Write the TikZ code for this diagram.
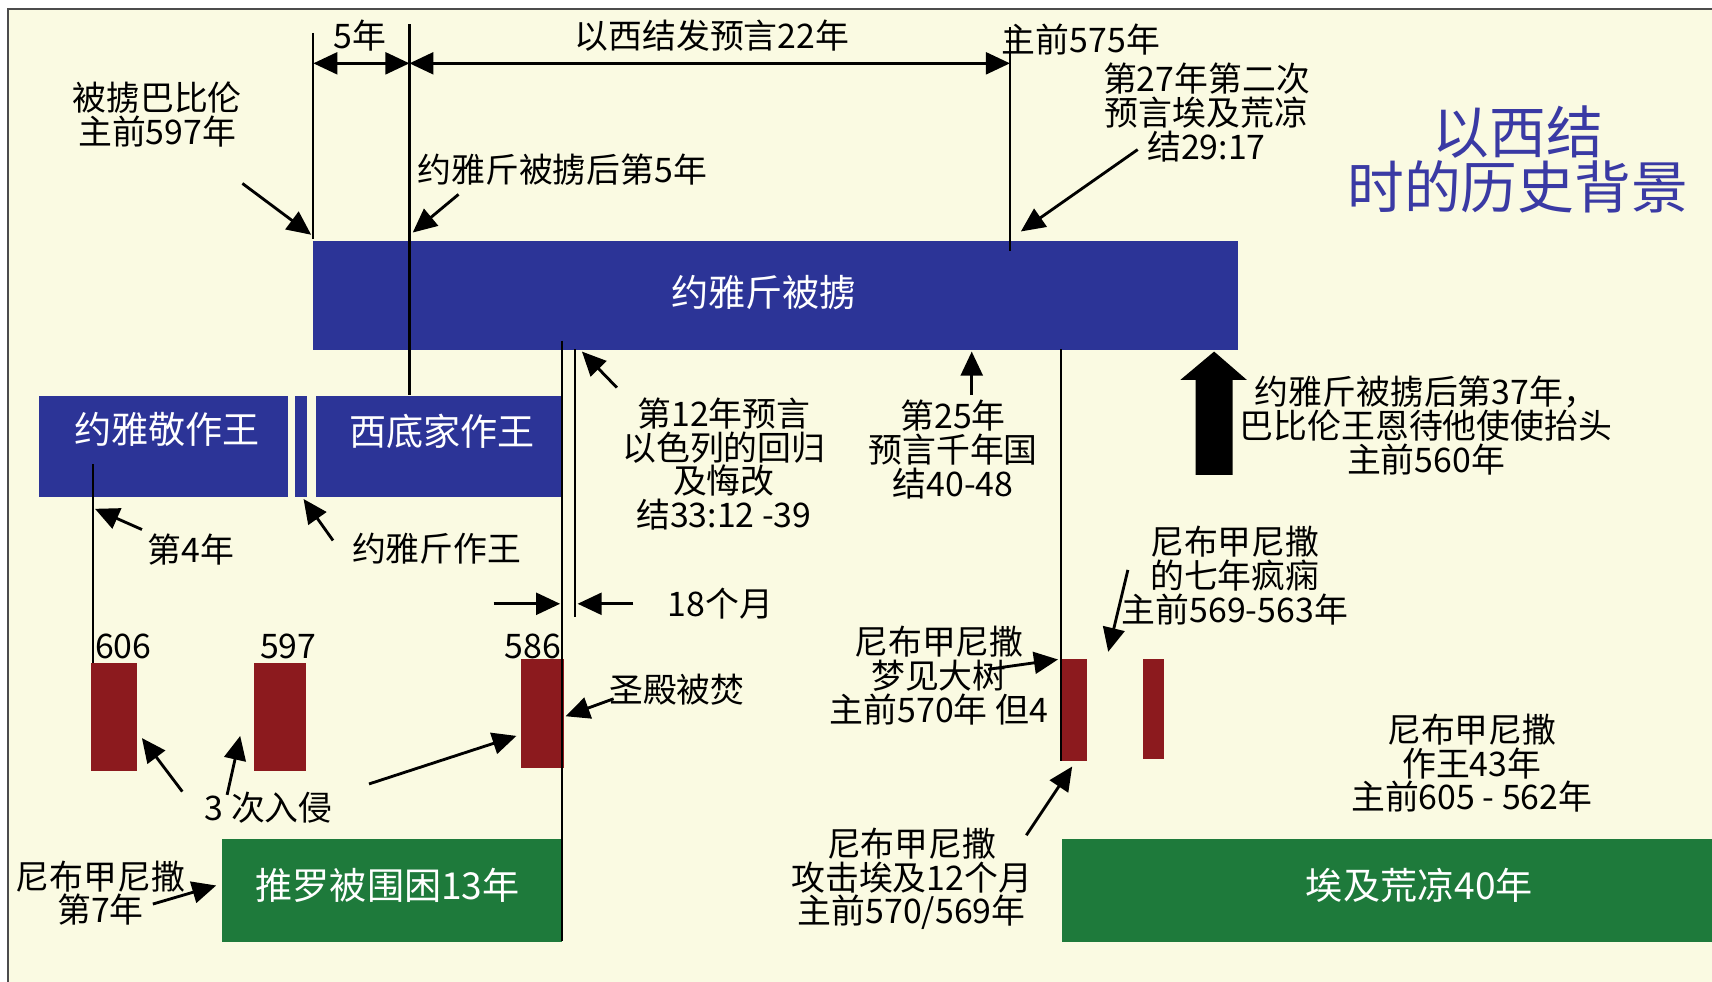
\documentclass[tikz,border=0pt]{standalone}
\usepackage{fontspec}
\setmainfont{Noto Sans CJK SC}
\usetikzlibrary{arrows.meta}
\definecolor{cream}{HTML}{FAFAE2}
\definecolor{barblue}{HTML}{2C3497}
\definecolor{barred}{HTML}{8C1A1E}
\definecolor{bargreen}{HTML}{1E7A3B}
\definecolor{titleblue}{HTML}{3A3AA4}
\begin{document}
\begin{tikzpicture}[x=0.5pt,y=-0.5pt,
  lbl/.style={font=\fontsize{15.5}{15.5}\selectfont, align=center, inner sep=0pt, text=black},
  boxtxt/.style={font=\fontsize{17}{17}\selectfont, text=white, inner sep=0pt},
  title/.style={font=\fontsize{26}{25}\selectfont, align=center, inner sep=0pt, text=titleblue},
  bluebar/.style={fill=barblue, draw=none, inner sep=0pt, anchor=north west},
  redbar/.style={fill=barred, draw=none, inner sep=0pt, anchor=north west},
  greenbar/.style={fill=bargreen, draw=none, inner sep=0pt, anchor=north west},
  vline/.style={line width=1pt, draw=black},
  arr/.style={line width=1.3pt, -{Triangle[length=11pt,width=10pt]}},
  dbl/.style={line width=1.3pt, {Triangle[length=11pt,width=10pt]}-{Triangle[length=11pt,width=10pt]}}
]
\useasboundingbox (0,0) rectangle (1568,899);
\fill[white] (0,0) rectangle (1568,899);
\fill[cream] (7,8) rectangle (1568,899);
\draw[black!70, line width=0.8pt] (7,899) -- (7,8) -- (1568,8);

% ---------- bars ----------
\node[bluebar, minimum width=423.5pt, minimum height=50pt] (exile) at (286,220) {};
\node[boxtxt] (exiletxt) at (700,268) {约雅斤被掳};
\node[bluebar, minimum width=114pt, minimum height=46.5pt] (jyj) at (35,362) {};
\node[boxtxt] (jyjtxt) at (153,393) {约雅敬作王};
\node[bluebar, minimum width=5.5pt, minimum height=46.5pt] (jyq) at (270,362) {};
\node[bluebar, minimum width=112pt, minimum height=46.5pt] (xdj) at (289,362) {};
\node[boxtxt] (xdjtxt) at (405,395) {西底家作王};

\node[redbar, minimum width=21pt, minimum height=49.5pt] (r606) at (83,607) {};
\node[redbar, minimum width=24pt, minimum height=49.5pt] (r597) at (232,607) {};
\node[redbar, minimum width=19.5pt, minimum height=50pt] (r586) at (477,603) {};
\node[redbar, minimum width=11.5pt, minimum height=47pt] (r570) at (972,603) {};
\node[redbar, minimum width=10pt, minimum height=46pt] (r563) at (1046,603) {};

\node[greenbar, minimum width=155.5pt, minimum height=47pt] (tyre) at (203,768) {};
\node[boxtxt] (tyretxt) at (355,811) {推罗被围困13年};
\node[greenbar, minimum width=298pt, minimum height=47pt] (egypt) at (972,768) {};
\node[boxtxt] (egypttxt) at (1300,811) {埃及荒凉40年};

% ---------- vertical lines ----------
\coordinate (v1t) at (287,30);  \coordinate (v1b) at (287,219);
\coordinate (v2t) at (375,22);  \coordinate (v2b) at (375,362);
\coordinate (v3t) at (925,25);  \coordinate (v3b) at (925,230);
\coordinate (v4t) at (515,312); \coordinate (v4b) at (515,862);
\coordinate (v5t) at (527,320); \coordinate (v5b) at (527,565);
\coordinate (v6t) at (972,320); \coordinate (v6b) at (972,697);
\coordinate (v7t) at (85,425);  \coordinate (v7b) at (85,607);
\draw[vline] (v1t) -- (v1b);
\draw[vline] (v2t) -- (v2b);
\draw[vline] (v3t) -- (v3b);
\draw[vline] (v4t) -- (v4b);
\draw[vline] (v5t) -- (v5b);
\draw[vline] (v6t) -- (v6b);
\draw[line width=0.7pt] (v7t) -- (v7b);

% ---------- top span arrows ----------
\coordinate (s1) at (287,58); \coordinate (s2) at (375,58); \coordinate (s3) at (925,58);
\draw[dbl] (s1) -- (s2);
\draw[dbl] (s2) -- (s3);
\node[lbl] (fiveyr) at (330,33) {5年};
\node[lbl] (twentytwo) at (652,33) {以西结发预言22年};
\node[lbl] (bc575) at (990,36) {主前575年};

% ---------- title ----------
\node[title] (ttl) at (1390,146) {以西结\\时的历史背景};

% ---------- top labels ----------
\node[lbl] (exile597) at (144,105) {被掳巴比伦\\主前597年};
\coordinate (a597s) at (222,168); \coordinate (a597e) at (285,215);
\draw[arr] (a597s) -- (a597e);

\node[lbl] (yr5) at (515,155) {约雅斤被掳后第5年};
\coordinate (a5s) at (420,178); \coordinate (a5e) at (378,213);
\draw[arr] (a5s) -- (a5e);

\node[lbl] (yr27) at (1105,103) {第27年第二次\\预言埃及荒凉\\结29:17};
\coordinate (a27s) at (1042,137); \coordinate (a27e) at (935,212);
\draw[arr] (a27s) -- (a27e);

% ---------- middle labels ----------
\node[lbl] (yr12) at (663,425) {第12年预言\\以色列的回归\\及悔改\\结33:12 -39};
\coordinate (a12s) at (565,355); \coordinate (a12e) at (533,322);
\draw[arr] (a12s) -- (a12e);

\node[lbl] (yr25) at (873,412) {第25年\\预言千年国\\结40-48};
\coordinate (a25s) at (890,362); \coordinate (a25e) at (890,322);
\draw[arr] (a25s) -- (a25e);

\node[lbl] (yr37) at (1306,390) {约雅斤被掳后第37年，\\巴比伦王恩待他使使抬头\\主前560年};
\fill[black] (1095,435) -- (1095,348) -- (1081,348) -- (1112,322) -- (1142,348) -- (1129,348) -- (1129,435) -- cycle;

\node[lbl] (yr4) at (175,503) {第4年};
\coordinate (a4s) at (130,485); \coordinate (a4e) at (87,466);
\draw[arr] (a4s) -- (a4e);

\node[lbl] (jyqking) at (400,503) {约雅斤作王};
\coordinate (ajqs) at (305,495); \coordinate (ajqe) at (278,457);
\draw[arr] (ajqs) -- (ajqe);

\node[lbl] (m18) at (660,553) {18个月};
\coordinate (m18a) at (452,553); \coordinate (m18b) at (513,553);
\coordinate (m18c) at (580,553); \coordinate (m18d) at (529,553);
\draw[arr] (m18a) -- (m18b);
\draw[arr] (m18c) -- (m18d);

% ---------- bottom left ----------
\node[lbl] (n606) at (113,592) {606};
\node[lbl] (n597) at (264,592) {597};
\node[lbl] (n586) at (488,592) {586};

\node[lbl] (temple) at (620,632) {圣殿被焚};
\coordinate (ats) at (562,640); \coordinate (ate) at (518,656);
\draw[arr] (ats) -- (ate);

\node[lbl] (three) at (246,740) {3 次入侵};
\coordinate (i1s) at (167,725); \coordinate (i1e) at (130,676);
\coordinate (i2s) at (208,728); \coordinate (i2e) at (220,674);
\coordinate (i3s) at (338,718); \coordinate (i3e) at (473,674);
\draw[arr] (i1s) -- (i1e);
\draw[arr] (i2s) -- (i2e);
\draw[arr] (i3s) -- (i3e);

\node[lbl] (neb7) at (92,818) {尼布甲尼撒\\第7年};
\coordinate (a7s) at (140,828); \coordinate (a7e) at (198,811);
\draw[arr] (a7s) -- (a7e);

% ---------- bottom right ----------
\node[lbl] (mad) at (1131,527) {尼布甲尼撒\\的七年疯痫\\主前569-563年};
\coordinate (amads) at (1033,522); \coordinate (amade) at (1015,597);
\draw[arr] (amads) -- (amade);

\node[lbl] (tree) at (860,619) {尼布甲尼撒\\梦见大树\\主前570年 但4};
\coordinate (atrs) at (905,613); \coordinate (atre) at (969,604);
\draw[arr] (atrs) -- (atre);

\node[lbl] (attack) at (835,805) {尼布甲尼撒\\攻击埃及12个月\\主前570/569年};
\coordinate (aats) at (940,765); \coordinate (aate) at (982,702);
\draw[arr] (aats) -- (aate);

\node[lbl] (reign) at (1348,699) {尼布甲尼撒\\作王43年\\主前605 - 562年};
\end{tikzpicture}
\end{document}
